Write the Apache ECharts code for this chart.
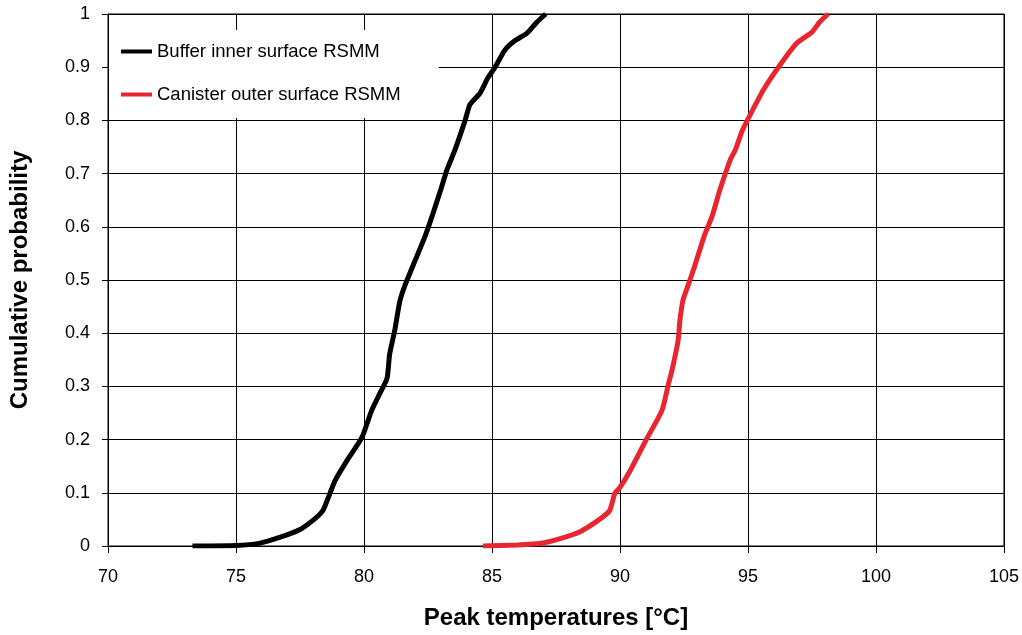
<!DOCTYPE html>
<html>
<head>
<meta charset="utf-8">
<script src="https://cdn.jsdelivr.net/npm/echarts@6/dist/echarts.min.js"></script>
<style>html,body{margin:0;padding:0;background:#fff;}#c{width:1022px;height:635px;}</style>
</head>
<body>
<div id="c"></div>
<script>
var seriesNames = ['Buffer inner surface RSMM', 'Canister outer surface RSMM'];
var bufferX = [73.3,75.0,75.9,76.7,77.5,78.1,78.4,78.67,78.87,79.34,79.92,80.3,80.6,80.9,81.0,81.2,81.4,81.6,82.0,82.4,82.66,83.0,83.24,83.55,83.95,84.14,84.53,84.84,85.12,85.5,85.9,86.37,86.76,87.1];
var bufferY = [0,0.001,0.005,0.016,0.031,0.052,0.067,0.099,0.123,0.161,0.204,0.255,0.285,0.315,0.36,0.405,0.46,0.49,0.537,0.584,0.62,0.67,0.707,0.744,0.80,0.83,0.851,0.88,0.90,0.932,0.95,0.964,0.985,1.0];
var canisterX = [84.65,86.0,86.9,87.66,88.44,89.2,89.6,89.8,90.0,90.4,91.05,91.64,91.9,92.03,92.27,92.34,92.46,92.66,92.93,93.3,93.6,93.9,94.3,94.5,94.77,95.08,95.6,96.25,96.9,97.5,97.8,98.13];
var canisterY = [0,0.002,0.005,0.014,0.027,0.05,0.067,0.099,0.11,0.142,0.202,0.255,0.306,0.33,0.386,0.424,0.462,0.49,0.528,0.584,0.62,0.669,0.725,0.744,0.78,0.81,0.857,0.904,0.945,0.966,0.985,1.0];
var xTitle = 'Peak temperatures [°C]';
var yTitle = 'Cumulative probability';

function pairs(xs, ys){ return xs.map(function(x,i){ return [x, ys[i]]; }); }

var font = 'Liberation Sans, Arial, Helvetica, sans-serif';
var chart = echarts.init(document.getElementById('c'), null, {renderer:'canvas'});
chart.setOption({
  animation: false,
  backgroundColor: '#fff',
  grid: {left: 108, right: 17, top: 14, bottom: 89, show: true, borderColor: '#000', borderWidth: 1},
  xAxis: {
    type: 'value', min: 70, max: 105, interval: 5,
    name: xTitle, nameLocation: 'middle', nameGap: 60,
    nameTextStyle: {fontFamily: font, fontSize: 24, fontWeight: 'bold', color: '#000'},
    axisLine: {show: true, onZero: false, lineStyle: {color: '#000', width: 1}},
    axisTick: {show: true, inside: false, length: 7, lineStyle: {color: '#000'}},
    axisLabel: {margin: 22, fontFamily: font, fontSize: 18, color: '#000'},
    splitLine: {show: true, lineStyle: {color: '#000', width: 1}}
  },
  yAxis: {
    type: 'value', min: 0, max: 1, interval: 0.1,
    name: yTitle, nameLocation: 'middle', nameGap: 76,
    nameTextStyle: {fontFamily: font, fontSize: 24, fontWeight: 'bold', color: '#000'},
    axisLine: {show: true, lineStyle: {color: '#000', width: 1}},
    axisTick: {show: true, inside: false, length: 6, lineStyle: {color: '#000'}},
    axisLabel: {margin: 18, fontFamily: font, fontSize: 18, color: '#000',
      formatter: function(v){ return String(Math.round(v*10)/10); }},
    splitLine: {show: true, lineStyle: {color: '#000', width: 1}}
  },
  legend: {
    orient: 'vertical', left: 109, top: 30,
    backgroundColor: '#fff', padding: [12, 38, 14, 12],
    itemGap: 24, itemWidth: 31, itemHeight: 4, icon: 'rect',
    textStyle: {fontFamily: font, fontSize: 18.5, color: '#000'},
    data: seriesNames
  },
  series: [
    {name: seriesNames[0], type: 'line', data: pairs(bufferX, bufferY), showSymbol: false, symbol: 'none',
     lineStyle: {color: '#000', width: 5}, itemStyle: {color: '#000'}, smooth: 0.2, z: 3},
    {name: seriesNames[1], type: 'line', data: pairs(canisterX, canisterY), showSymbol: false, symbol: 'none',
     lineStyle: {color: '#e8262f', width: 5}, itemStyle: {color: '#e8262f'}, smooth: 0.2, z: 3}
  ]
});
</script>
</body>
</html>
